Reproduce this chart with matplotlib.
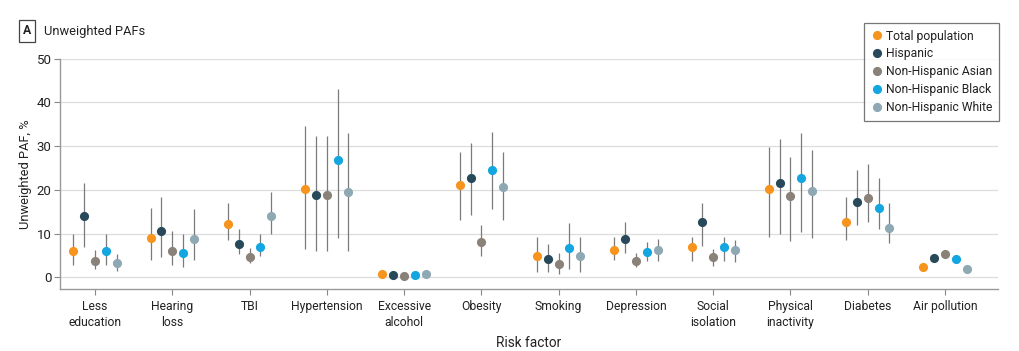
import matplotlib
matplotlib.use("Agg")
import matplotlib.pyplot as plt
import numpy as np
from matplotlib.lines import Line2D

plt.rcParams['font.family'] = ['Roboto', 'DejaVu Sans']

categories = ["Less\neducation", "Hearing\nloss", "TBI", "Hypertension", "Excessive\nalcohol",
              "Obesity", "Smoking", "Depression", "Social\nisolation", "Physical\ninactivity",
              "Diabetes", "Air pollution"]
groups = ["Total population", "Hispanic", "Non-Hispanic Asian", "Non-Hispanic Black", "Non-Hispanic White"]
colors = ["#F7941D", "#28495A", "#8A8178", "#14A6E0", "#8EA8B4"]

total_val = [6.1, 9.0, 12.1, 20.2, 0.8, 21.0, 4.9, 6.3, 6.9, 20.1, 12.6, 2.3]
total_lo  = [2.8, 4.0, 8.5, 6.4, 0.5, 13.1, 1.3, 4.0, 3.8, 9.1, 8.5, 2.0]
total_hi  = [10.0, 15.8, 16.9, 34.5, 1.1, 28.7, 9.3, 9.1, 9.3, 29.7, 18.4, 2.6]

hisp_val = [14.1, 10.6, 7.7, 18.8, 0.5, 22.6, 4.1, 8.8, 12.7, 21.6, 17.1, 4.4]
hisp_lo  = [6.8, 4.6, 5.3, 5.9, 0.2, 14.2, 1.1, 5.6, 7.2, 9.9, 12.0, 3.8]
hisp_hi  = [21.6, 18.4, 11.0, 32.4, 0.8, 30.8, 7.6, 12.7, 16.9, 31.6, 24.5, 5.0]

asian_val = [3.8, 5.9, 4.7, 18.8, 0.2, 8.1, 3.1, 3.8, 4.7, 18.5, 18.1, 5.4]
asian_lo  = [1.8, 2.7, 3.2, 5.9, 0.0, 4.9, 0.8, 2.4, 2.6, 8.3, 12.7, 4.8]
asian_hi  = [6.2, 10.6, 6.6, 32.4, 0.4, 12.0, 5.6, 5.6, 6.4, 27.6, 25.8, 6.0]

black_val = [6.1, 5.6, 7.0, 26.8, 0.5, 24.6, 6.7, 5.8, 6.9, 22.7, 15.8, 4.1]
black_lo  = [2.8, 2.4, 4.9, 8.9, 0.2, 15.6, 1.8, 3.6, 3.8, 10.4, 11.0, 3.8]
black_hi  = [9.8, 10.0, 10.0, 43.0, 0.8, 33.2, 12.5, 8.1, 9.3, 32.9, 22.8, 4.4]

white_val = [3.3, 8.8, 14.0, 19.4, 0.8, 20.7, 4.9, 6.2, 6.2, 19.8, 11.3, 1.8]
white_lo  = [1.5, 4.0, 9.9, 6.1, 0.5, 13.0, 1.3, 3.7, 3.4, 8.9, 7.8, 1.6]
white_hi  = [5.3, 15.6, 19.4, 33.1, 1.1, 28.6, 9.3, 8.8, 8.5, 29.0, 16.9, 2.0]

vals = [total_val, hisp_val, asian_val, black_val, white_val]
los = [total_lo, hisp_lo, asian_lo, black_lo, white_lo]
his = [total_hi, hisp_hi, asian_hi, black_hi, white_hi]

fig = plt.figure(figsize=(10.2, 3.51), dpi=100)
ax = fig.add_axes([0.0588, 0.1766, 0.9192, 0.6562])

x = np.arange(len(categories))
offsets = [-0.28, -0.14, 0.0, 0.14, 0.28]
for g in range(5):
    v = np.array(vals[g]); lo = np.array(los[g]); hi = np.array(his[g])
    xs = x + offsets[g]
    ax.vlines(xs, lo, hi, color="#7a7a7a", lw=0.9, zorder=2)
    ax.plot(xs, v, 'o', color=colors[g], ms=6.6, mec='none', zorder=3)

ax.set_xlim(-0.453, 11.68)
ax.set_ylim(-2.7, 50)
ax.set_yticks([0, 10, 20, 30, 40, 50])
ax.set_xticks(x)
ax.set_xticklabels(categories, fontsize=8.7, color="#222222", linespacing=1.25)
ax.tick_params(axis='y', labelsize=9.5, colors="#222222", length=4, width=0.8, color="#888888", pad=2)
ax.tick_params(axis='x', length=4, width=0.8, color="#888888", pad=4)
ax.yaxis.grid(True, color="#dddddd", lw=0.9)
ax.set_axisbelow(True)
for s in ["top", "right"]:
    ax.spines[s].set_visible(False)
for s in ["left", "bottom"]:
    ax.spines[s].set_color("#999999")
    ax.spines[s].set_linewidth(1.0)
ax.spines["left"].set_bounds(-2.7, 50)
ax.set_ylabel("Unweighted PAF, %", fontsize=9.3, color="#222222", labelpad=3)
ax.set_xlabel("Risk factor", fontsize=9.8, color="#222222", labelpad=5)

handles = [Line2D([], [], marker='o', ls='none', color=c, ms=6.6, mec='none') for c in colors]
leg = fig.legend(handles, groups, loc='upper left', bbox_to_anchor=(864/1020, 1 - 23/351),
                 frameon=True, fancybox=False, fontsize=8.7, handletextpad=0.25,
                 borderpad=0.55, labelspacing=0.4, handlelength=1.0, borderaxespad=0)
leg.get_frame().set_edgecolor("#555555")
leg.get_frame().set_linewidth(0.9)
for t in leg.get_texts():
    t.set_color("#222222")

fig.text(27/1020, 1 - 31/351, "A", fontsize=8.8, fontweight='bold', ha='center', va='center',
         color="#222222",
         bbox=dict(boxstyle='square,pad=0.35', fc='white', ec='#444444', lw=0.9))
fig.text(44/1020, 1 - 31/351, "Unweighted PAFs", fontsize=9.3, ha='left', va='center', color="#222222")

fig.savefig("out.png", dpi=100)
